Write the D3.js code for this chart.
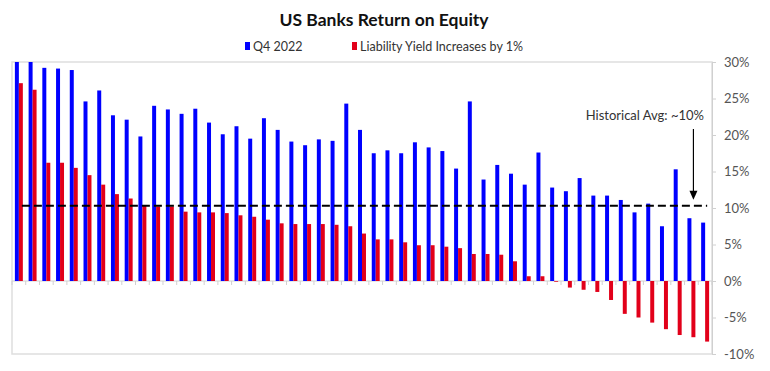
<!DOCTYPE html>
<html>
<head>
<meta charset="utf-8">
<script src="https://cdn.jsdelivr.net/npm/d3@7"></script>
<style>
  body { margin: 0; background: #fff; }
  text { font-family: Lato, "Open Sans", sans-serif; }
</style>
</head>
<body>
<div id="chart"></div>
<script>
// bank index, one group per bank (sorted as in the source)
var banks = d3.range(51);

var q4Values = [
  31.0, 30.5, 29.2, 29.1, 28.9, 24.6, 26.1, 22.7, 22.1, 19.8,
  24.0, 23.5, 22.9, 23.6, 21.7, 20.1, 21.2, 19.5, 22.3, 20.7,
  19.1, 18.6, 19.4, 19.2, 24.3, 20.7, 17.5, 17.9, 17.5, 19.0,
  18.3, 17.8, 15.4, 24.6, 13.9, 15.9, 14.7, 13.2, 17.6, 12.8,
  12.3, 14.1, 11.7, 11.7, 11.1, 9.4, 10.6, 7.5, 15.3, 8.6,
  8.0
];

var yieldUpValues = [
  27.1, 26.2, 16.2, 16.2, 15.5, 14.5, 13.2, 11.9, 11.3, 10.4,
  10.2, 10.2, 9.5, 9.4, 9.4, 9.3, 9.0, 8.8, 8.4, 7.9,
  7.8, 7.8, 7.8, 7.7, 7.5, 6.5, 5.7, 5.7, 5.3, 4.9,
  4.9, 4.7, 4.5, 3.7, 3.7, 3.6, 2.7, 0.65, 0.65, -0.1,
  -0.9, -1.2, -1.5, -2.6, -4.5, -5.0, -5.7, -6.6, -7.4, -7.7,
  -8.3
];

var seriesNames = ['Q4 2022', 'Liability Yield Increases by 1%'];
var seriesColors = ['#0000ff', '#e2001a'];
var yTicks = [-10, -5, 0, 5, 10, 15, 20, 25, 30];
var historicalAvg = 10.3;
var avgLabel = 'Historical Avg: ~10%';

var width = 770, height = 371;
var plot = { left: 12, right: 712, top: 62, bottom: 354 };

var svg = d3.select('#chart').append('svg')
    .attr('width', width)
    .attr('height', height);

var x = d3.scaleBand()
    .domain(banks)
    .range([plot.left, plot.right])
    .paddingInner(0.42)
    .paddingOuter(0.21);

var xSub = d3.scaleBand()
    .domain([0, 1])
    .range([0, x.bandwidth()]);

var y = d3.scaleLinear()
    .domain([-10, 30])
    .range([plot.bottom, plot.top]);

// title
svg.append('text')
    .attr('x', 384)
    .attr('y', 26)
    .attr('text-anchor', 'middle')
    .attr('font-size', 17.5)
    .attr('font-weight', 'bold')
    .attr('fill', '#111')
    .text('US Banks Return on Equity');

// legend
var legendX = [245, 352];
seriesNames.forEach(function(name, i) {
    var g = svg.append('g').attr('transform', 'translate(' + legendX[i] + ',41)');
    g.append('rect')
        .attr('width', 5).attr('height', 8)
        .attr('y', 1)
        .attr('fill', seriesColors[i]);
    g.append('text')
        .attr('x', 8).attr('y', 9.5)
        .attr('font-size', 12.5)
        .attr('fill', '#333')
        .text(name);
});

// plot frame
svg.append('rect')
    .attr('x', plot.left).attr('y', plot.top)
    .attr('width', plot.right - plot.left)
    .attr('height', plot.bottom - plot.top)
    .attr('fill', 'none')
    .attr('stroke', '#dedede')
    .attr('stroke-width', 1.5);

svg.append('defs').append('clipPath').attr('id', 'clip')
  .append('rect')
    .attr('x', plot.left).attr('y', plot.top)
    .attr('width', plot.right - plot.left)
    .attr('height', plot.bottom - plot.top);

// zero line + category ticks
svg.append('line')
    .attr('x1', plot.left).attr('x2', plot.right)
    .attr('y1', y(0)).attr('y2', y(0))
    .attr('stroke', '#d0d0d0').attr('stroke-width', 1);

var step = x.step();
svg.append('g').selectAll('line')
    .data(d3.range(banks.length + 1))
    .enter().append('line')
    .attr('x1', function(i) { return plot.left + i * step; })
    .attr('x2', function(i) { return plot.left + i * step; })
    .attr('y1', y(0)).attr('y2', y(0) + 4)
    .attr('stroke', '#d0d0d0');

// bars
var bars = svg.append('g').attr('clip-path', 'url(#clip)');
[q4Values, yieldUpValues].forEach(function(vals, s) {
    bars.append('g').selectAll('rect')
        .data(vals)
        .enter().append('rect')
        .attr('x', function(d, i) { return x(i) + xSub(s); })
        .attr('width', xSub.bandwidth())
        .attr('y', function(d) { return y(Math.max(0, d)); })
        .attr('height', function(d) { return Math.abs(y(d) - y(0)); })
        .attr('fill', seriesColors[s]);
});

// right axis
var yAxis = svg.append('g')
    .attr('transform', 'translate(' + plot.right + ',0)')
    .call(d3.axisRight(y).tickValues(yTicks).tickSize(4).tickPadding(8)
        .tickFormat(function(d) { return d + '%'; }));
yAxis.select('.domain').attr('stroke', '#d0d0d0');
yAxis.selectAll('.tick line').attr('stroke', '#d0d0d0');
yAxis.selectAll('.tick text')
    .attr('font-size', 13)
    .attr('fill', '#555')
    .style('font-family', 'Lato, "Open Sans", sans-serif');

// historical average
svg.append('line')
    .attr('x1', x(0) + 7).attr('x2', x(banks.length - 1) + 6)
    .attr('y1', y(historicalAvg)).attr('y2', y(historicalAvg))
    .attr('stroke', '#000')
    .attr('stroke-width', 2)
    .attr('stroke-dasharray', '8,4');

var arrowX = x(49) + 6;
svg.append('line')
    .attr('x1', arrowX).attr('x2', arrowX)
    .attr('y1', 129).attr('y2', y(historicalAvg) - 14)
    .attr('stroke', '#000').attr('stroke-width', 1.2);
svg.append('path')
    .attr('d', 'M' + (arrowX - 4) + ',' + (y(historicalAvg) - 15) +
               'L' + (arrowX + 4) + ',' + (y(historicalAvg) - 15) +
               'L' + arrowX + ',' + (y(historicalAvg) - 6) + 'Z')
    .attr('fill', '#000');

svg.append('text')
    .attr('x', 704)
    .attr('y', 120)
    .attr('text-anchor', 'end')
    .attr('font-size', 13)
    .attr('fill', '#333')
    .text(avgLabel);
</script>
</body>
</html>
